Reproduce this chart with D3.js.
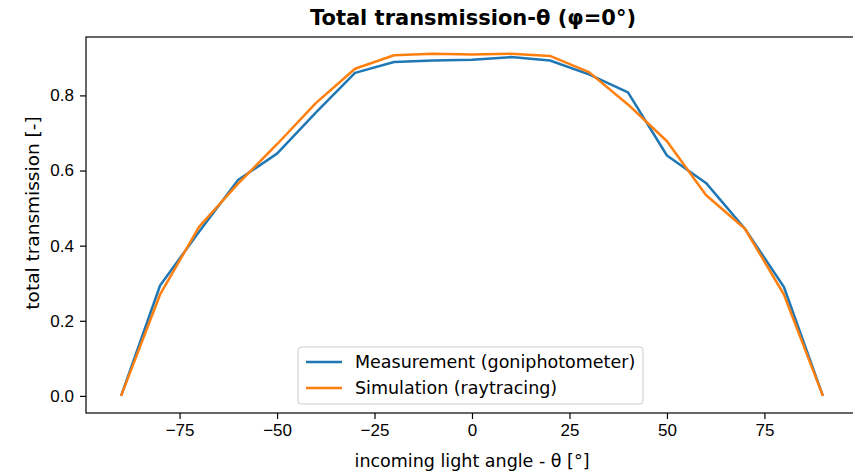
<!DOCTYPE html>
<html>
<head>
<meta charset="utf-8">
<script src="https://cdn.jsdelivr.net/npm/d3@7"></script>
<style>
  body { margin: 0; background: #fff; }
  svg { font-family: "DejaVu Sans", sans-serif; }
  .axis path, .axis line { stroke: #000; stroke-width: 1.2; }
  .axis text { font-size: 17px; fill: #000; }
</style>
</head>
<body>
<script>
  var angles = [-90, -80, -70, -60, -50, -40, -30, -20, -10, 0, 10, 20, 30, 40, 50, 60, 70, 80, 90];
  var measurement = [0, 0.294, 0.437, 0.575, 0.645, 0.755, 0.860, 0.889, 0.893, 0.895, 0.902, 0.893, 0.856, 0.808, 0.640, 0.567, 0.445, 0.290, 0];
  var simulation = [0, 0.270, 0.450, 0.565, 0.670, 0.780, 0.871, 0.907, 0.911, 0.909, 0.911, 0.905, 0.862, 0.776, 0.678, 0.535, 0.445, 0.270, 0];
  var xTicks = [-75, -50, -25, 0, 25, 50, 75];
  var yTicks = [0, 0.2, 0.4, 0.6, 0.8];
  var seriesNames = ['Measurement (goniphotometer)', 'Simulation (raytracing)'];
  var colors = ['#1f77b4', '#ff7f0e'];

  function translate(x, y) {
    return 'translate(' + x + ',' + y + ')';
  }

  var margin = { top: 37, right: -5, bottom: 58, left: 86 },
      width = 853 - margin.left - margin.right,
      height = 471 - margin.top - margin.bottom;

  var x = d3.scaleLinear().domain([-99, 99]).range([0, width]),
      y = d3.scaleLinear().domain([-0.0455, 0.9555]).range([height, 0]);

  var svg = d3.select('body').append('svg')
      .attr('width', 853)
      .attr('height', 471);

  var g = svg.append('g').attr('transform', translate(margin.left, margin.top));

  g.append('g')
    .attr('class', 'x axis')
    .attr('transform', translate(0, height))
    .call(d3.axisBottom(x).tickValues(xTicks).tickSize(6).tickPadding(5)
      .tickFormat(function(d) { return d < 0 ? '\u2212' + Math.abs(d) : d; }));

  g.append('g')
    .attr('class', 'y axis')
    .call(d3.axisLeft(y).tickValues(yTicks).tickSize(6).tickPadding(6).tickFormat(d3.format('.1f')));

  g.selectAll('.axis .domain').remove();

  // spines
  g.append('rect')
    .attr('width', width).attr('height', height)
    .attr('fill', 'none').attr('stroke', '#000').attr('stroke-width', 1.2);

  var line = d3.line()
      .x(function(d, i) { return x(angles[i]); })
      .y(function(d) { return y(d); });

  [measurement, simulation].forEach(function(s, i) {
    g.append('path')
      .datum(s)
      .attr('fill', 'none')
      .attr('stroke', colors[i])
      .attr('stroke-width', 2.5)
      .attr('stroke-linejoin', 'round')
      .attr('d', line);
  });

  // legend
  var lg = svg.append('g').attr('transform', translate(298, 347));
  lg.append('rect')
    .attr('width', 345).attr('height', 57).attr('rx', 3)
    .attr('fill', '#fff').attr('fill-opacity', 0.8)
    .attr('stroke', '#ccc');
  seriesNames.forEach(function(n, i) {
    var yy = 15 + i * 26;
    lg.append('line')
      .attr('x1', 8).attr('x2', 44).attr('y1', yy).attr('y2', yy)
      .attr('stroke', colors[i]).attr('stroke-width', 2.5);
    lg.append('text')
      .attr('x', 57).attr('y', yy).attr('dy', '0.35em')
      .style('font-size', '17.5px')
      .text(n);
  });

  svg.append('text')
    .attr('x', 473).attr('y', 25)
    .attr('text-anchor', 'middle')
    .style('font-size', '21px').style('font-weight', 'bold')
    .text('Total transmission-\u03b8 (\u03c6=0\u00b0)');

  svg.append('text')
    .attr('x', margin.left + x(0)).attr('y', 467)
    .attr('text-anchor', 'middle')
    .style('font-size', '17.5px')
    .text('incoming light angle - \u03b8 [\u00b0]');

  svg.append('text')
    .attr('transform', translate(39, 213) + ' rotate(-90)')
    .attr('text-anchor', 'middle')
    .style('font-size', '18.5px')
    .text('total transmission [-]');
</script>
</body>
</html>
